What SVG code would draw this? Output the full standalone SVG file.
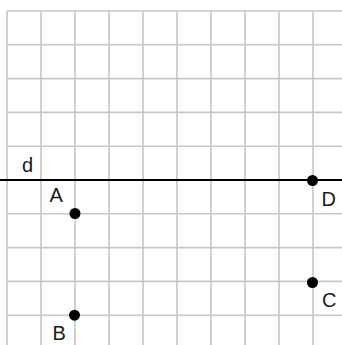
<svg xmlns="http://www.w3.org/2000/svg" width="342" height="345" viewBox="0 0 342 345">
<style>
.grid line{stroke:#c6c6c6;stroke-width:1.6}
.pt{fill:#000}
.lbl{font-family:"Liberation Sans",Arial,sans-serif;font-size:20px;fill:#1a1a1a}
</style>
<rect width="342" height="345" fill="#fff"/>
<g class="grid" id="grid">
<line x1="7" y1="11" x2="342" y2="11"/>
<line x1="7" y1="44.8" x2="342" y2="44.8"/>
<line x1="7" y1="78.6" x2="342" y2="78.6"/>
<line x1="7" y1="112.4" x2="342" y2="112.4"/>
<line x1="7" y1="146.2" x2="342" y2="146.2"/>
<line x1="7" y1="213.8" x2="342" y2="213.8"/>
<line x1="7" y1="247.6" x2="342" y2="247.6"/>
<line x1="7" y1="281.4" x2="342" y2="281.4"/>
<line x1="7" y1="315.2" x2="342" y2="315.2"/>
<line x1="7" y1="11" x2="7" y2="345"/>
<line x1="41" y1="11" x2="41" y2="345"/>
<line x1="75" y1="11" x2="75" y2="345"/>
<line x1="109" y1="11" x2="109" y2="345"/>
<line x1="143" y1="11" x2="143" y2="345"/>
<line x1="177" y1="11" x2="177" y2="345"/>
<line x1="211" y1="11" x2="211" y2="345"/>
<line x1="245" y1="11" x2="245" y2="345"/>
<line x1="279" y1="11" x2="279" y2="345"/>
<line x1="313" y1="11" x2="313" y2="345"/>
</g>
<g id="connectors">
<line id="line-d" x1="0" y1="180" x2="342" y2="180" stroke="#000" stroke-width="2"/>
<text class="lbl" x="22" y="172">d</text>
</g>
<g id="A"><circle class="pt" cx="75" cy="213.5" r="5.5"/><text class="lbl" x="49.5" y="202">A</text></g>
<g id="B"><circle class="pt" cx="74.5" cy="315.2" r="5.5"/><text class="lbl" x="52.5" y="340">B</text></g>
<g id="C"><circle class="pt" cx="312.5" cy="282.5" r="5.5"/><text class="lbl" x="322" y="306.5">C</text></g>
<g id="D"><circle class="pt" cx="312.5" cy="180.5" r="5.5"/><text class="lbl" x="321.5" y="205.5">D</text></g>
</svg>
